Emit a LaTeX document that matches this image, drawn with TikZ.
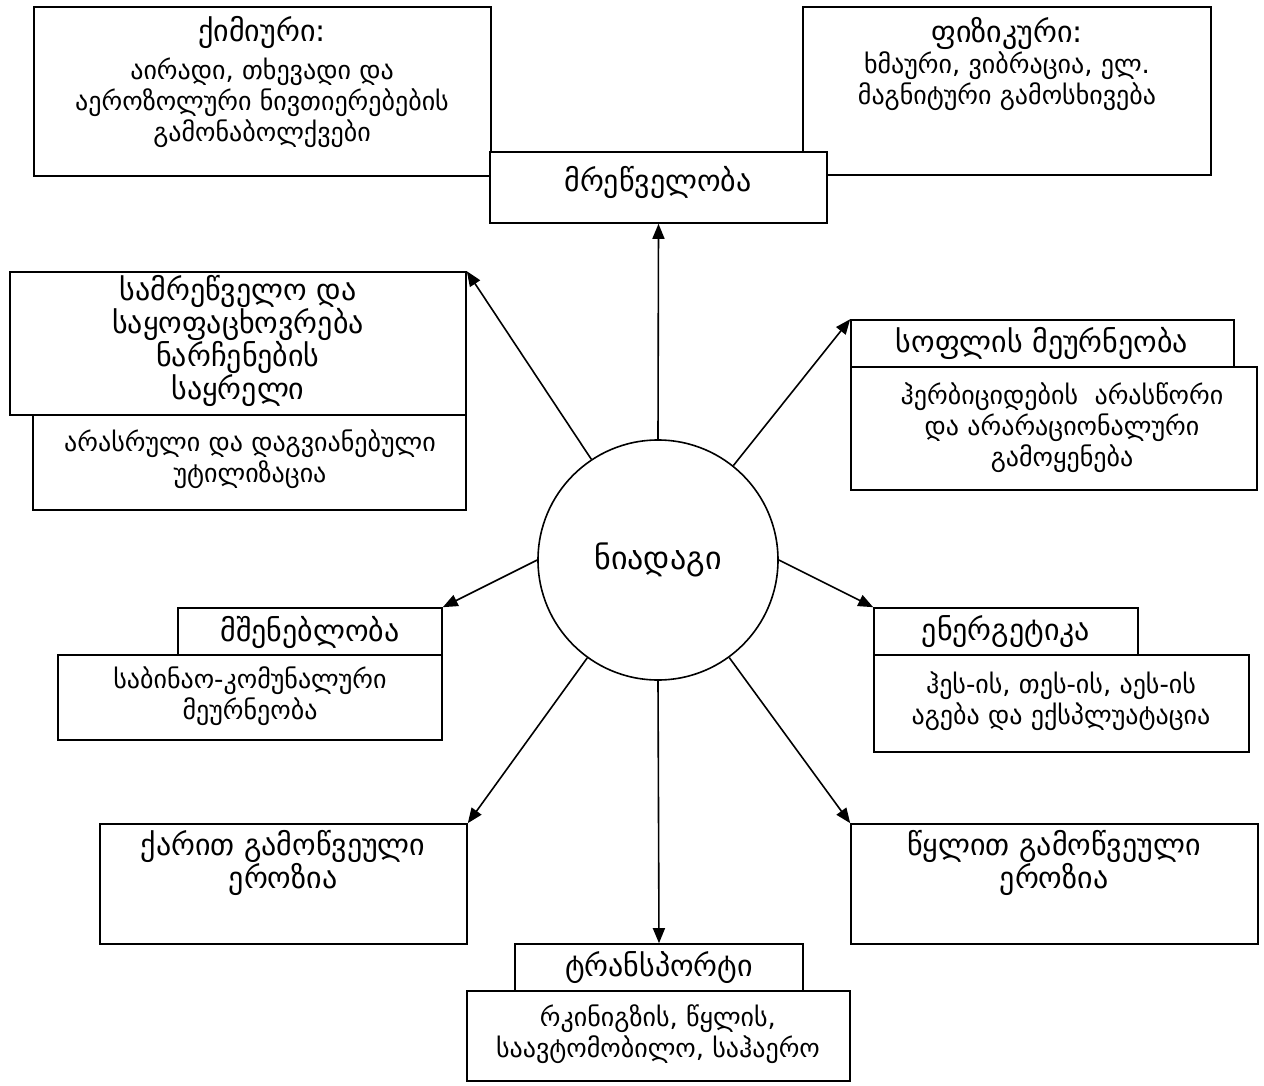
\documentclass[tikz,border=0pt]{standalone}
\usepackage{fontspec}
\setmainfont{DejaVu Sans}
\usetikzlibrary{arrows.meta,fit}
\begin{document}
\begin{tikzpicture}[x=1pt,y=-1pt,
  box/.style={draw, line width=1.6pt, fill=white, inner sep=0pt},
  body/.style={font=\fontsize{26}{31}\selectfont, align=center, inner sep=0pt},
  head/.style={font=\fontsize{30}{32}\selectfont, align=center, inner sep=0pt},
  link/.style={line width=1.6pt, -{Triangle[length=15pt,width=12pt]}}]
\useasboundingbox (0,0) rectangle (1264,1086);

% pollution sources at the top
\node[box, fit={(34,7) (491,176)}] (chem) {};
\node[box, fit={(803,7) (1211,175)}] (phys) {};
\node[head] (chemT) at (262,32) {ქიმიური:};
\node[body] (chemB) at (262,103) {აირადი, თხევადი და\\აეროზოლური ნივთიერებების\\გამონაბოლქვები};
\node[head] (physT) at (1007,33) {ფიზიკური:};
\node[body] (physB) at (1007,81) {ხმაური, ვიბრაცია, ელ.\\მაგნიტური გამოსხივება};
\node[box, fit={(490,152) (827,223)}] (ind) {};
\node[head] (indT) at (658,182) {მრეწველობა};

% waste dumps
\node[box, fit={(33,415) (466,510)}] (wasteB) {};
\node[box, fit={(10,272) (466,415)}] (wasteH) {};
\node[head] (wasteHT) at (238,341) {სამრეწველო და\\საყოფაცხოვრება\\ნარჩენების\\საყრელი};
\node[body] (wasteBT) at (250,459) {არასრული და დაგვიანებული\\უტილიზაცია};

% agriculture
\node[box, fit={(851,367) (1257,490)}] (agriB) {};
\node[box, fit={(851,320) (1234,367)}] (agriH) {};
\node[head] (agriHT) at (1042,343) {სოფლის მეურნეობა};
\node[body] (agriBT) at (1062,428) {ჰერბიციდების~ არასწორი\\და არარაციონალური\\გამოყენება};

% construction
\node[box, fit={(58,655) (442,740)}] (consB) {};
\node[box, fit={(178,608) (442,655)}] (consH) {};
\node[head] (consHT) at (310,632) {მშენებლობა};
\node[body] (consBT) at (250,696) {საბინაო-კომუნალური\\მეურნეობა};

% energy
\node[box, fit={(874,655) (1249,752)}] (enB) {};
\node[box, fit={(874,608) (1138,655)}] (enH) {};
\node[head] (enHT) at (1006,632) {ენერგეტიკა};
\node[body] (enBT) at (1061,701) {ჰეს-ის, თეს-ის, აეს-ის\\აგება და ექსპლუატაცია};

% erosion
\node[box, fit={(100,824) (467,944)}] (wind) {};
\node[head] (windT) at (283,863) {ქარით გამოწვეული\\ეროზია};
\node[box, fit={(851,824) (1258,944)}] (water) {};
\node[head] (waterT) at (1054,863) {წყლით გამოწვეული\\ეროზია};

% transport
\node[box, fit={(467,991) (850,1081)}] (trB) {};
\node[box, fit={(515,944) (803,991)}] (trH) {};
\node[head] (trHT) at (659,968) {ტრანსპორტი};
\node[body] (trBT) at (658,1034) {რკინიგზის, წყლის,\\საავტომობილო, საჰაერო};

% soil in the centre
\node[draw, circle, line width=1.6pt, minimum size=240pt, inner sep=0pt,
      font=\fontsize{32}{36}\selectfont] (soil) at (658,560) {ნიადაგი};

% impacts on the soil
\draw[link] (soil.north) -- (ind.south);
\draw[link] (soil) -- (wasteH.north east);
\draw[link] (soil) -- (agriH.north west);
\draw[link] (soil.west) -- (consH.north east);
\draw[link] (soil.east) -- (enH.north west);
\draw[link] (soil) -- (wind.north east);
\draw[link] (soil) -- (water.north west);
\draw[link] (soil.south) -- (trH.north);
\end{tikzpicture}
\end{document}
